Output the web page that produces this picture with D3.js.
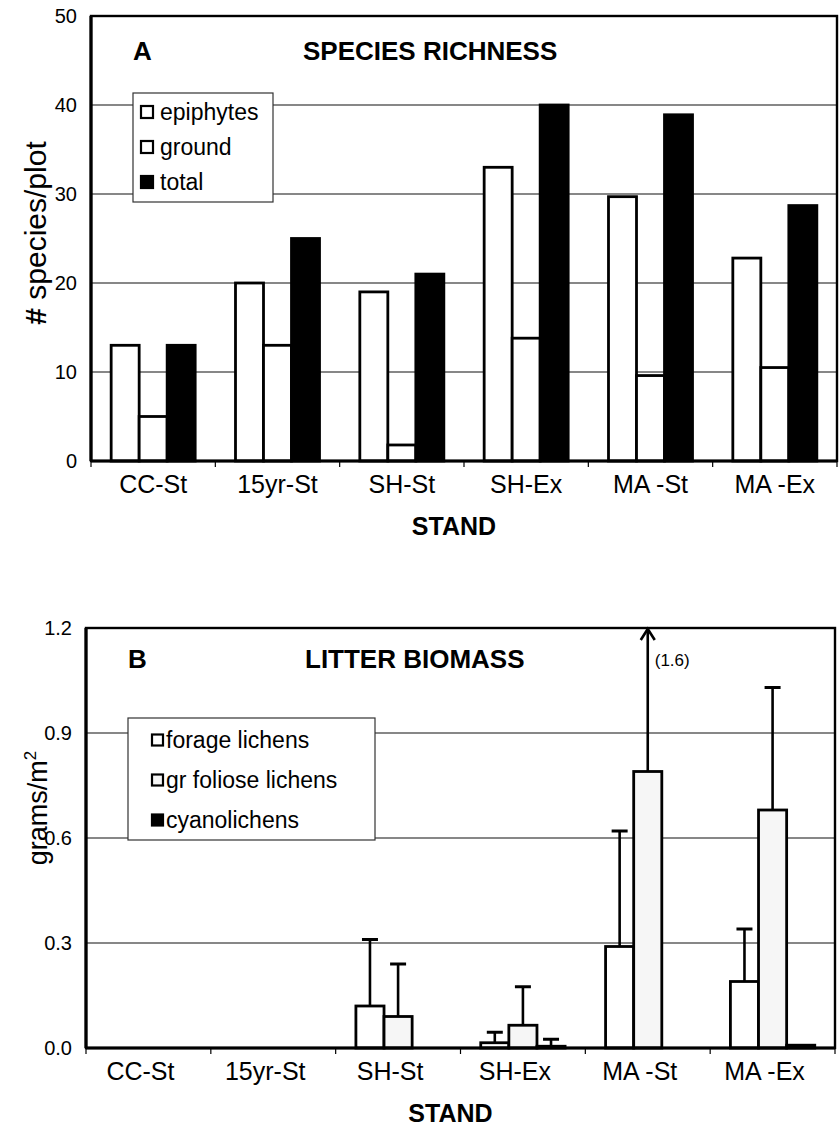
<!DOCTYPE html>
<html><head><meta charset="utf-8">
<script src="https://cdn.jsdelivr.net/npm/d3@7"></script>
<style>
body{margin:0;background:#fff}
svg{display:block;font-family:"Liberation Sans",Arial,Helvetica,sans-serif}
</style>
</head><body>
<svg id="c" width="840" height="1128"></svg>
<script>
// ---------- data ----------
const stands = ["CC-St","15yr-St","SH-St","SH-Ex","MA -St","MA -Ex"];

// Panel A: species richness (# species/plot)
const richSeries = ["epiphytes","ground","total"];
const epiphytes = [13, 20, 19, 33, 29.7, 22.8];
const ground    = [5, 13, 1.8, 13.8, 9.6, 10.5];
const total     = [13, 25, 21, 40, 38.9, 28.7];
const richTicks = [0,10,20,30,40,50];

// Panel B: litter biomass (grams/m2), mean and upper error
const bioSeries = ["forage lichens","gr foliose lichens","cyanolichens"];
const forage     = [0, 0, 0.12, 0.015, 0.29, 0.19];
const foliose    = [0, 0, 0.09, 0.065, 0.79, 0.68];
const cyano      = [0, 0, 0, 0.005, 0, 0.008];
const forageErr  = [0, 0, 0.19, 0.03, 0.33, 0.15];
const folioseErr = [0, 0, 0.15, 0.11, 0.81, 0.35];
const cyanoErr   = [0, 0, 0, 0.02, 0, 0];
const bioTicks = [0,0.3,0.6,0.9,1.2];

// ---------- drawing ----------
const svg = d3.select("#c");
const FONT_TICK = 20, FONT_CAT = 25, FONT_TITLE = 26, FONT_LEG = 23;

function drawPanel(o){
  const g = svg.append("g");
  const x = d3.scaleBand().domain(stands).range([o.left,o.right]);
  const xs = d3.scaleBand().domain(o.series).range([0,x.bandwidth()]).paddingInner(0).paddingOuter(0.72);
  const y = d3.scaleLinear().domain([0,o.max]).range([o.bottom,o.top]);

  // gridlines
  g.selectAll("line.grid").data(o.ticks.filter(t=>t>0 && t<o.max)).join("line")
    .attr("x1",o.left).attr("x2",o.right).attr("y1",d=>y(d)).attr("y2",d=>y(d))
    .attr("stroke","#111").attr("stroke-width",1.2);

  // tick labels
  g.selectAll("text.yt").data(o.ticks).join("text")
    .attr("x",o.left-14).attr("y",d=>y(d)).attr("dy","0.35em")
    .attr("text-anchor","end").attr("font-size",FONT_TICK).text(o.fmt);

  // bars
  o.series.forEach((s,si)=>{
    const vals = o.values[si];
    const bars = stands.map((st,i)=>({st,v:vals[i],i})).filter(d=>d.v>0);
    g.selectAll(null).data(bars).join("rect")
      .attr("x",d=>x(d.st)+xs(s)).attr("width",xs.bandwidth())
      .attr("y",d=>y(d.v)).attr("height",d=>o.bottom-y(d.v))
      .attr("fill",o.fills[si]).attr("stroke","#000").attr("stroke-width",2.8);
  });

  // error bars
  if(o.errors){
    o.series.forEach((s,si)=>{
      const vals=o.values[si], errs=o.errors[si];
      stands.forEach((st,i)=>{
        if(!errs[i]) return;
        const cx = x(st)+xs(s)+xs.bandwidth()/2;
        const topV = vals[i]+errs[i];
        const clipped = topV>o.max;
        const yt = y(Math.min(topV,o.max));
        g.append("line").attr("x1",cx).attr("x2",cx).attr("y1",y(vals[i])).attr("y2",yt)
          .attr("stroke","#000").attr("stroke-width",2.6);
        if(!clipped){
          g.append("line").attr("x1",cx-8).attr("x2",cx+8).attr("y1",yt).attr("y2",yt)
            .attr("stroke","#000").attr("stroke-width",3);
        } else {
          g.append("path").attr("d",`M${cx-7},${yt+12}L${cx},${yt+1}L${cx+7},${yt+12}`)
            .attr("fill","none").attr("stroke","#000").attr("stroke-width",2.6);
          g.append("text").attr("x",cx+7).attr("y",yt+38).attr("font-size",17)
            .text("("+d3.format(".1f")(topV)+")");
        }
      });
    });
  }

  // frame / axes
  g.append("rect").attr("x",o.left).attr("y",o.top).attr("width",o.right-o.left).attr("height",o.bottom-o.top)
    .attr("fill","none").attr("stroke","#000").attr("stroke-width",2.4);
  g.append("line").attr("x1",o.left).attr("x2",o.left).attr("y1",o.top).attr("y2",o.bottom)
    .attr("stroke","#000").attr("stroke-width",3.2);
  g.append("line").attr("x1",o.left).attr("x2",o.right).attr("y1",o.bottom).attr("y2",o.bottom)
    .attr("stroke","#000").attr("stroke-width",3.2);
  // x tick marks at band boundaries
  const bounds = stands.map(s=>x(s)).concat([o.right]);
  g.selectAll(null).data(bounds).join("line")
    .attr("x1",d=>d).attr("x2",d=>d).attr("y1",o.bottom).attr("y2",o.bottom+6)
    .attr("stroke","#000").attr("stroke-width",1.2);

  // category labels
  g.selectAll(null).data(stands).join("text")
    .attr("x",d=>x(d)+x.bandwidth()/2+o.catDx).attr("y",o.bottom+32)
    .attr("text-anchor","middle").attr("font-size",FONT_CAT).text(d=>d);
  // x title
  g.append("text").attr("x",(o.left+o.right)/2-10).attr("y",o.bottom+74)
    .attr("text-anchor","middle").attr("font-size",FONT_CAT).attr("font-weight","bold").text("STAND");

  // panel letter & title
  g.append("text").attr("x",o.left+42).attr("y",o.titleY).attr("font-size",FONT_TITLE)
    .attr("font-weight","bold").text(o.letter);
  g.append("text").attr("x",o.titleX).attr("y",o.titleY).attr("font-size",FONT_TITLE)
    .attr("font-weight","bold").text(o.title);

  // legend
  const L = o.legend;
  g.append("rect").attr("x",L.x).attr("y",L.y).attr("width",L.w).attr("height",L.h)
    .attr("fill","#fff").attr("stroke","#333").attr("stroke-width",1.2);
  o.series.forEach((s,si)=>{
    const cy = L.y + L.first + si*L.step;
    g.append("rect").attr("x",L.sx).attr("y",cy-L.sq/2).attr("width",L.sq).attr("height",L.sq)
      .attr("fill",o.fills[si]).attr("stroke","#000").attr("stroke-width",2.2);
    g.append("text").attr("x",L.tx).attr("y",cy).attr("dy","0.35em")
      .attr("font-size",FONT_LEG).text(s);
  });
  return {x,y,g};
}

// Panel A
const A = drawPanel({
  left:91, right:837, top:16, bottom:461, max:50,
  ticks:richTicks, fmt:d=>d3.format("d")(d),
  series:richSeries, values:[epiphytes,ground,total],
  fills:["#fff","#fff","#000"], catDx:0,
  letter:"A", title:"SPECIES RICHNESS", titleX:303, titleY:60,
  legend:{x:133,y:93,w:140,h:109,first:19,step:35,sq:12,sx:141,tx:160}
});
const ya = svg.append("text").attr("transform","translate(46,233) rotate(-90)")
  .attr("text-anchor","middle").attr("font-size",30);
ya.append("tspan").attr("font-weight","bold").text("#");
ya.append("tspan").text(" species/plot");

// Panel B
const B = drawPanel({
  left:86, right:835, top:628, bottom:1048, max:1.2,
  ticks:bioTicks, fmt:d=>d3.format(".1f")(d),
  series:bioSeries, values:[forage,foliose,cyano], errors:[forageErr,folioseErr,cyanoErr],
  fills:["#fff","#f6f6f6","#000"], catDx:-8,
  letter:"B", title:"LITTER BIOMASS", titleX:305, titleY:668,
  legend:{x:128,y:718,w:247,h:122,first:22,step:40,sq:11,sx:152,tx:166}
});
const yb = svg.append("text").attr("transform","translate(47,808) rotate(-90)")
  .attr("text-anchor","middle").attr("font-size",27);
yb.append("tspan").text("grams/m");
yb.append("tspan").attr("font-size",17).attr("dy",-11).text("2");
</script>
</body></html>
